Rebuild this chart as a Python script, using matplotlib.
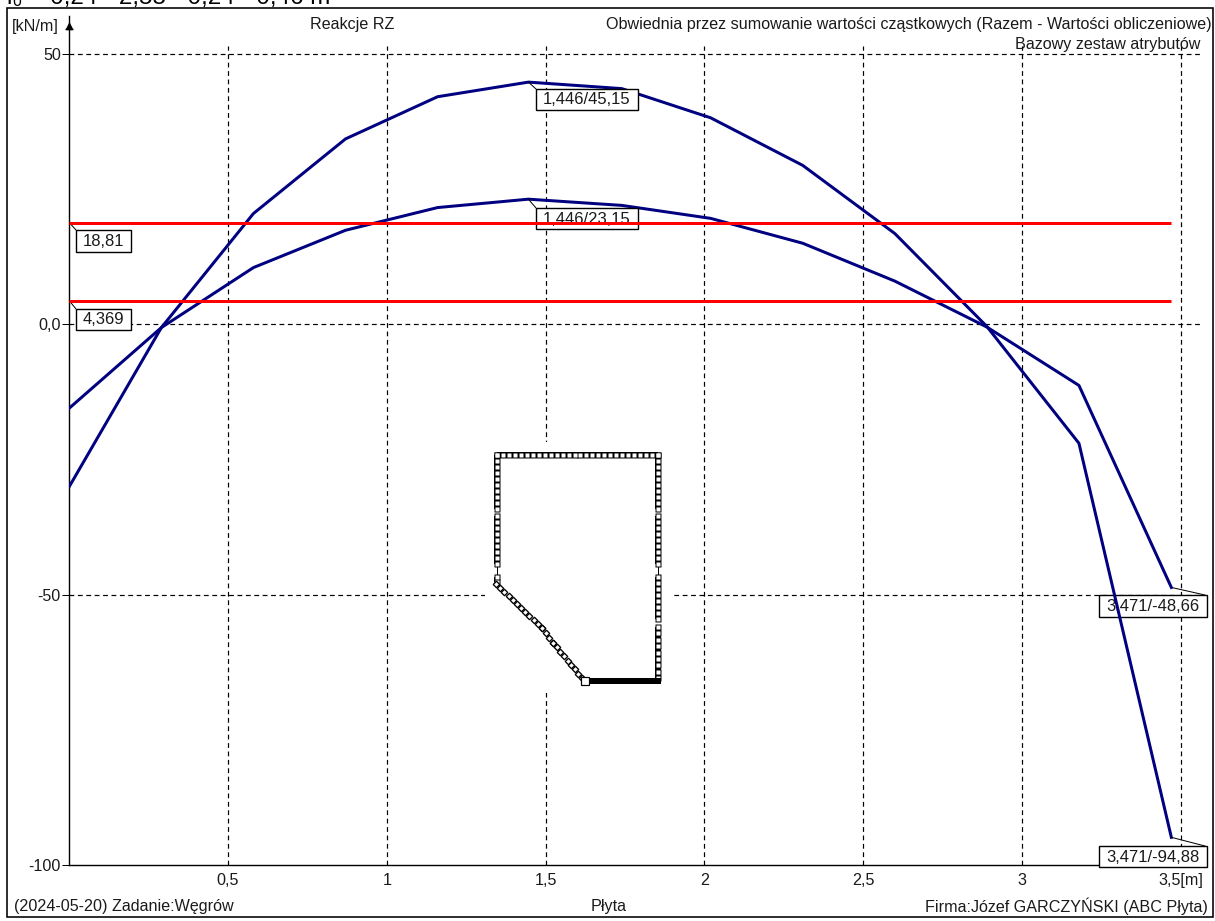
# -*- coding: utf-8 -*-
import numpy as np
import matplotlib
matplotlib.use('Agg')
import matplotlib.pyplot as plt
from matplotlib.patches import Rectangle

W, H = 1215, 921
PX = 0.72  # 1 piksel w punktach przy dpi=100

# dane z wykresu
x_nodes = [0.0, 0.29, 0.58, 0.87, 1.16, 1.446, 1.74, 2.02, 2.31, 2.6, 2.89, 3.18, 3.471]
rz_max = [-30.0, -0.6, 20.5, 34.3, 42.1, 44.8, 43.6, 38.2, 29.4, 16.8, -0.4, -22.0, -94.88]
rz_min = [-15.5, -0.6, 10.5, 17.4, 21.6, 23.15, 22.0, 19.6, 15.0, 8.0, -0.5, -11.3, -48.66]
red_levels = [18.81, 4.369]
x_ticks = [0.5, 1, 1.5, 2, 2.5, 3, 3.5]
x_labels = ['0,5', '1', '1,5', '2', '2,5', '3', '3,5[m]']
y_ticks = [50, 0, -50, -100]
y_labels = ['50', '0,0', '-50', '-100']

# obrys plyty (jednostki rysunku plyty)
plate_top = [(3, 3), (164, 3)]
plate_sides = [
    [(3, 3), (3, 57)], [(3, 64), (3, 112)], [(3, 125), (3, 130)],
    [(164, 3), (164, 57)], [(164, 64), (164, 112)], [(164, 125), (164, 167)],
    [(164, 175), (164, 226)],
]
plate_diag = [(2, 132), (48, 176), (59, 191), (88, 226)]
plate_bottom = [(91, 229), (167, 229)]

plt.rcParams['font.family'] = ['Liberation Sans', 'DejaVu Sans']
FS = 11.62
TXT = '#1a1a1a'

fig = plt.figure(figsize=(W / 100, H / 100), dpi=100)


def ftext(x, y, s, **kw):
    kw.setdefault('fontsize', FS)
    kw.setdefault('color', TXT)
    kw.setdefault('va', 'center')
    return fig.text(x / W, 1 - y / H, s, **kw)


fig.add_artist(Rectangle((6.5 / W, 1 - 917 / H), 1206.5 / W, 909 / H, transform=fig.transFigure,
                         fc='white', ec='black', lw=1.6 * PX, zorder=-1))
ftext(7, 4, 'l₀ = 0,24 · 2,55 · 0,24 · 0,46 m', fontsize=17.5, color='black', va='baseline', zorder=-2)

ax = fig.add_axes([69.3 / W, 1 - 865 / H, (1200 - 69.3) / W, (865 - 16) / H])
ax.patch.set_alpha(0)
ax.set_xlim(0, (1200 - 69.3) / 317.5)
ax.set_ylim(-100, 57.03)
for s in ['top', 'right']:
    ax.spines[s].set_visible(False)
ax.spines['left'].set_linewidth(1.4 * PX)
ax.spines['bottom'].set_linewidth(1.4 * PX)

ax.set_xticks(x_ticks, x_labels)
ax.set_yticks(y_ticks, y_labels)
ax.tick_params(axis='x', length=0, pad=6, labelsize=FS, labelcolor=TXT)
ax.tick_params(axis='y', length=5, width=PX, pad=1, labelsize=FS, labelcolor=TXT)

dash = (0, (4, 3))
ax.vlines(x_ticks, -100, 51.5, color='black', lw=1.2 * PX, linestyles=dash, zorder=1)
ax.hlines(y_ticks[:-1], 0, 3.561, color='black', lw=1.2 * PX, linestyles=dash, zorder=1)

# biale tlo pod plyta
ax.add_patch(Rectangle((485 / W, 1 - 693 / H), 187 / W, 251 / H, transform=fig.transFigure,
                       fc='white', ec='none', zorder=1.5))

# strzalka osi Y
ax.plot([0], [55.2], marker='^', ms=5, color='black', clip_on=False, zorder=5)
ax.plot([0], [54.6], marker='_', ms=6, color='black', clip_on=False, zorder=5)

ax.plot(x_nodes, rz_max, color='#000080', lw=3 * PX, zorder=3, solid_joinstyle='round')
ax.plot(x_nodes, rz_min, color='#000080', lw=3 * PX, zorder=3, solid_joinstyle='round')
ax.hlines(red_levels, 0, x_nodes[-1], color='#ff0000', lw=3 * PX, zorder=6)


def note(x, y, s, box, z, corner):
    # box = lewa, gora, prawa, dol w pikselach rysunku
    x0, y0, x1, y1 = box
    ax.add_patch(Rectangle((x0 / W, 1 - y1 / H), (x1 - x0) / W, (y1 - y0) / H, transform=fig.transFigure,
                           fc='white', ec='black', lw=1.4 * PX, zorder=z, clip_on=False))
    ax.text((x0 + x1) / 2 / W, 1 - ((y0 + y1) / 2 + 0.5) / H, s, transform=fig.transFigure, ha='center',
            va='center', fontsize=12, color=TXT, zorder=z, clip_on=False)
    ax.annotate('', xy=(x, y), xytext=(corner[0], H - corner[1]), textcoords='figure pixels', zorder=z,
                annotation_clip=False, arrowprops=dict(arrowstyle='-', lw=PX, color='black', shrinkA=0, shrinkB=0))


note(1.446, 44.8, '1,446/45,15', (536, 89, 638, 110), 4, (536, 89))
note(1.446, 23.15, '1,446/23,15', (536, 208, 638, 229), 4, (536, 208))
note(0, 18.81, '18,81', (76, 230, 131, 252), 4, (76, 230))
note(0, 4.369, '4,369', (76, 309, 131, 330), 4, (76, 309))
note(3.471, -48.66, '3,471/-48,66', (1099, 595, 1207, 617), 2, (1205, 595))
note(3.471, -94.88, '3,471/-94,88', (1099, 846, 1207, 867), 4, (1205, 846))

ftext(352, 24, 'Reakcje RZ', ha='center')
ftext(12, 26, '[kN/m]', ha='left')
ftext(1212, 24, 'Obwiednia przez sumowanie wartości cząstkowych (Razem - Wartości obliczeniowe)', ha='right')
ftext(1200, 45, 'Bazowy zestaw atrybutów', ha='right')
ftext(14, 906, '(2024-05-20) Zadanie:Węgrów', ha='left')
ftext(609, 906, 'Płyta', ha='center')
ftext(1208, 906, 'Firma:Józef GARCZYŃSKI (ABC Płyta)', ha='right')

# plyta w osobnych osiach
axp = fig.add_axes([494 / W, 1 - 686 / H, 167 / W, 234 / H], zorder=5)
axp.set_xlim(0, 167)
axp.set_ylim(234, 0)
axp.axis('off')


def edge(p0, p1, step=6.0):
    n = max(int(round(np.hypot(p1[0] - p0[0], p1[1] - p0[1]) / step)), 1)
    return np.linspace(p0[0], p1[0], n + 1), np.linspace(p0[1], p1[1], n + 1)


for seg in [plate_top] + plate_sides:
    xs, ys = edge(seg[0], seg[1])
    axp.plot(xs, ys, color='black', lw=6 * PX, solid_capstyle='butt', clip_on=False)
    axp.plot(xs, ys, ls='none', marker='s', ms=6 * PX, mfc='black', mec='none', clip_on=False)
for seg in [plate_top] + plate_sides:
    xs, ys = edge(seg[0], seg[1])
    axp.plot(xs, ys, ls='none', marker='s', ms=3.2 * PX, mfc='white', mec='none', clip_on=False)
# pojedyncze cienkie laczniki
axp.plot([3, 3], [115, 122], color='black', lw=PX)
axp.plot([164, 164], [115, 122], color='black', lw=PX)
for a, b in zip(plate_diag[:-1], plate_diag[1:]):
    xs, ys = edge(a, b, 6)
    axp.plot(xs, ys, ls='none', marker='D', ms=4.6 * PX, mfc='white', mec='black', mew=1.3 * PX, clip_on=False)
axp.plot(*zip(*plate_bottom), color='black', lw=6 * PX, solid_capstyle='butt', clip_on=False)
axp.plot([plate_bottom[0][0]], [plate_bottom[0][1]], marker='s', ms=8 * PX, mfc='white', mec='black',
         mew=1.2 * PX, clip_on=False)

fig.savefig('out.png', dpi=100)
